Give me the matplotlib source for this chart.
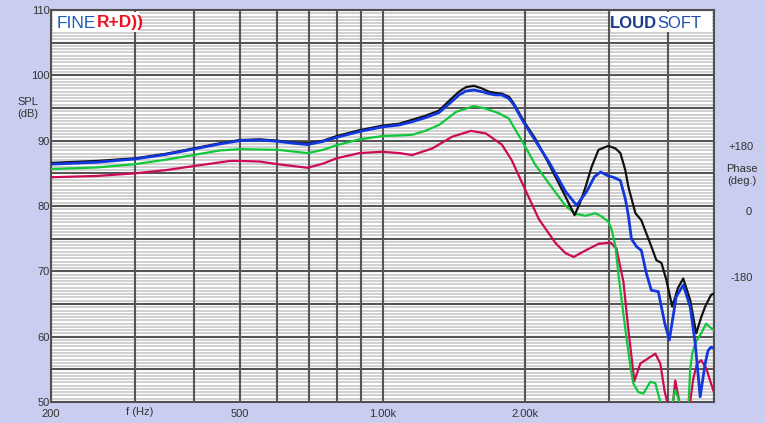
import numpy as np
import matplotlib.pyplot as plt
from matplotlib.ticker import NullLocator

# curva negra
f_negro = [200, 250, 301, 350, 399, 454, 500, 551, 601, 650, 695, 750, 800, 894, 999, 1085,
           1155, 1230, 1316, 1400, 1450, 1500, 1559, 1620, 1676, 1730, 1785, 1850, 1891, 1985,
           2100, 2241, 2433, 2541, 2610, 2680, 2760, 2854, 2995, 3100, 3174, 3250, 3300, 3414,
           3514, 3600, 3689, 3780, 3873, 3967, 4082, 4200, 4306, 4454, 4586, 4700, 4790, 4930, 5000]
spl_negro = [86.6, 86.9, 87.3, 88.0, 88.8, 89.6, 90.1, 90.2, 90.0, 89.7, 89.6, 90.0, 90.7, 91.6, 92.3, 92.6,
             93.2, 93.8, 94.6, 96.5, 97.5, 98.2, 98.4, 98.0, 97.5, 97.3, 97.2, 96.7, 95.7, 93.0,
             90.3, 86.5, 81.4, 78.6, 80.5, 82.9, 86.0, 88.6, 89.2, 88.8, 88.1, 85.5, 82.9, 78.9,
             77.8, 75.8, 73.8, 71.7, 71.3, 68.7, 64.6, 67.5, 68.9, 65.6, 60.5, 63.0, 64.6, 66.4, 66.6]

# curva azul
f_azul = [200, 250, 301, 350, 399, 454, 500, 551, 601, 650, 695, 750, 800, 894, 999, 1085,
          1155, 1230, 1316, 1400, 1450, 1500, 1559, 1620, 1676, 1730, 1785, 1850, 1891, 1985,
          2100, 2241, 2433, 2566, 2694, 2800, 2883, 2995, 3068, 3174, 3253, 3300, 3348, 3430,
          3514, 3600, 3689, 3815, 3938, 4025, 4162, 4306, 4454, 4564, 4675, 4790, 4859, 4930, 5000]
spl_azul = [86.4, 86.7, 87.2, 87.9, 88.7, 89.5, 90.0, 90.1, 89.9, 89.6, 89.4, 89.9, 90.5, 91.4, 92.1, 92.4,
            92.9, 93.5, 94.3, 96.0, 97.0, 97.6, 97.75, 97.5, 97.2, 97.0, 97.0, 96.4, 95.5, 92.8,
            90.0, 86.8, 82.2, 80.1, 82.2, 84.5, 85.2, 84.6, 84.4, 83.9, 81.0, 78.5, 75.0, 73.8,
            73.2, 69.7, 67.1, 66.9, 62.0, 59.5, 66.1, 67.9, 64.6, 59.0, 50.8, 55.9, 57.9, 58.4, 58.2]

# curva verde
f_verde = [200, 250, 301, 350, 399, 454, 500, 601, 695, 750, 800, 894, 999, 1085, 1155, 1230,
           1316, 1429, 1559, 1652, 1759, 1846, 1985, 2100, 2241, 2433, 2554, 2680, 2813, 2896,
           2995, 3039, 3098, 3144, 3253, 3332, 3381, 3463, 3549, 3671, 3760, 3852, 3900, 3967,
           4060, 4142, 4210, 4260, 4330, 4390, 4420, 4454, 4500, 4586, 4698, 4812, 4930, 5000]
spl_verde = [85.65, 85.9, 86.4, 87.1, 87.8, 88.5, 88.7, 88.6, 88.1, 88.6, 89.3, 90.2, 90.7, 90.8, 90.9, 91.5,
             92.4, 94.4, 95.3, 94.9, 94.2, 93.4, 89.5, 86.3, 83.5, 80.0, 78.8, 78.5, 78.9, 78.4,
             77.6, 76.5, 73.8, 69.5, 61.0, 55.4, 52.8, 51.5, 51.3, 53.1, 52.9, 50.0, 47.5, 46.5,
             49.0, 51.8, 50.5, 47.5, 46.5, 47.5, 50.0, 55.0, 57.5, 59.3, 60.5, 62.0, 61.3, 61.0]

# curva carmin
f_carmin = [200, 250, 301, 350, 399, 477, 500, 551, 601, 695, 750, 800, 894, 999, 1085, 1155,
            1273, 1402, 1537, 1652, 1785, 1873, 1985, 2136, 2318, 2430, 2530, 2680, 2854, 3025,
            3113, 3221, 3300, 3396, 3497, 3584, 3760, 3852, 3938, 3985, 4040, 4100, 4142, 4202,
            4280, 4400, 4454, 4520, 4600, 4698, 4812, 4930, 5000]
spl_carmin = [84.4, 84.6, 85.0, 85.5, 86.1, 86.9, 86.9, 86.8, 86.4, 85.85, 86.5, 87.3, 88.1, 88.3, 88.1, 87.8,
              88.8, 90.6, 91.5, 91.1, 89.4, 87.0, 83.0, 78.0, 74.3, 72.8, 72.2, 73.2, 74.2, 74.4,
              73.5, 68.4, 61.0, 53.2, 55.9, 56.4, 57.4, 55.9, 51.5, 50.0, 47.5, 50.0, 53.3, 51.0,
              48.0, 46.5, 50.0, 53.5, 55.8, 56.4, 55.2, 52.8, 51.5]

ticks_x = [200, 300, 400, 500, 600, 700, 800, 900, 1000, 2000, 3000, 4000, 5000]
etiquetas_x = ['200', '', '', '500', '', '', '', '', '1.00k', '2.00k', '', '', '']
ticks_y = list(range(50, 111, 5))
etiquetas_y = [str(v) if v % 10 == 0 else '' for v in ticks_y]

plt.rcParams['font.family'] = ['Liberation Sans', 'DejaVu Sans']
gris_texto = '#333333'

fig = plt.figure(figsize=(7.65, 4.23), dpi=100, facecolor='#c9cdf0')
ax = fig.add_axes([51/765, 21/423, 663/765, 392/423])
ax.set_facecolor('white')
ax.set_xscale('log')
ax.set_xlim(200, 5000)
ax.set_ylim(50, 110)

ax.set_xticks(ticks_x)
ax.set_xticklabels(etiquetas_x)
ax.xaxis.set_minor_locator(NullLocator())
ax.set_yticks(ticks_y)
ax.set_yticklabels(etiquetas_y)
ax.tick_params(which='both', length=0, labelsize=8, colors=gris_texto)
ax.tick_params(axis='y', pad=1)
ax.tick_params(axis='x', pad=5)

# rejilla: lineas finas cada 0.5 dB, gruesas cada 5 dB y en las frecuencias
for v in np.arange(50.5, 110, 0.5):
    if v % 5:
        ax.axhline(v, color='#c8c8c8', lw=1.2, zorder=0.5)
for v in ticks_y:
    ax.axhline(v, color='#555555', lw=1.5, zorder=1)
for f in ticks_x:
    ax.axvline(f, color='#555555', lw=1.5, zorder=1)
for s in ax.spines.values():
    s.set_color('#505050')
    s.set_linewidth(1.5)

ax.plot(f_carmin, spl_carmin, color='#cc0a55', lw=1.6, zorder=3)
ax.plot(f_verde, spl_verde, color='#10c83a', lw=1.6, zorder=4)
ax.plot(f_negro, spl_negro, color='#111111', lw=1.6, zorder=5)
ax.plot(f_azul, spl_azul, color='#1237dd', lw=2.0, zorder=6)

# etiquetas de los ejes
fig.text(28/765, 1 - 102/423, 'SPL', ha='center', va='center', fontsize=8, color=gris_texto)
fig.text(28/765, 1 - 114/423, '(dB)', ha='center', va='center', fontsize=8, color=gris_texto)
fig.text(140/765, 1 - 412/423, 'f (Hz)', ha='center', va='center', fontsize=8, color=gris_texto)

fig.text(741/765, 1 - 147/423, '+180', ha='center', va='center', fontsize=8, color=gris_texto)
fig.text(742/765, 1 - 169/423, 'Phase', ha='center', va='center', fontsize=8, color=gris_texto)
fig.text(742/765, 1 - 181/423, '(deg.)', ha='center', va='center', fontsize=8, color=gris_texto)
fig.text(749/765, 1 - 212/423, '0', ha='center', va='center', fontsize=8, color=gris_texto)
fig.text(742/765, 1 - 278/423, '-180', ha='center', va='center', fontsize=8, color=gris_texto)

# logos
ax.add_patch(plt.Rectangle((0.003, 0.945), 0.13, 0.05, transform=ax.transAxes,
                           facecolor='white', edgecolor='none', zorder=7))
ax.add_patch(plt.Rectangle((0.845, 0.945), 0.152, 0.05, transform=ax.transAxes,
                           facecolor='white', edgecolor='none', zorder=7))
fig.canvas.draw()
r = fig.canvas.get_renderer()

t1 = fig.text(57/765, 1 - 23/423, 'FINE', ha='left', va='center', fontsize=12.5,
              color='#1a5fb4', zorder=8)
x1 = t1.get_window_extent(r).x1
fig.text(x1/765 + 1/765, 1 - 23/423, 'R+D))', ha='left', va='center', fontsize=12.5,
         color='#ee1122', fontweight='bold', zorder=8)

t2 = fig.text(610/765, 1 - 24/423, 'LOUD', ha='left', va='center', fontsize=12,
              color='#1a3a8c', fontweight='bold', zorder=8)
x2 = t2.get_window_extent(r).x1
fig.text(x2/765, 1 - 24/423, 'SOFT', ha='left', va='center', fontsize=12,
         color='#1e4fa8', zorder=8)

fig.savefig('out.png', dpi=100, facecolor=fig.get_facecolor())
